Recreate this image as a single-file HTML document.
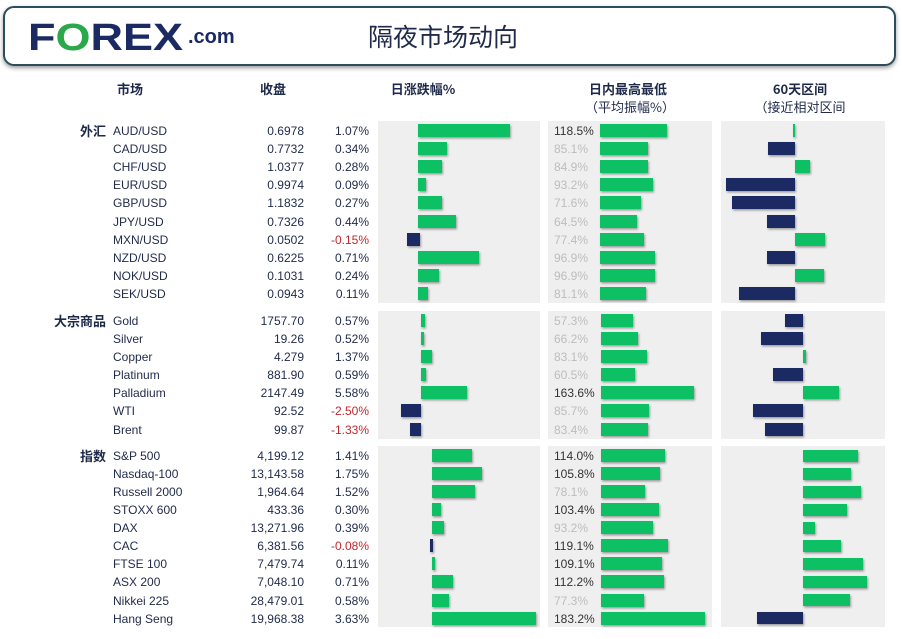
<!DOCTYPE html>
<html><head><meta charset="utf-8"><style>
html,body{margin:0;padding:0;background:#fff;}
svg{display:block;font-family:"Liberation Sans","Noto Sans CJK SC",sans-serif;}
.t{font-size:12px;fill:#1f2a4a;}
.r{text-anchor:end;}
.neg{fill:#c0282d;}
.g{fill:#11c064;}
.n{fill:#1b2a63;}
.h{font-size:13px;font-weight:bold;fill:#1f2a4a;text-anchor:middle;font-family:"Noto Sans CJK SC",sans-serif;}
.c{font-size:13px;font-weight:bold;fill:#1f2a4a;text-anchor:end;font-family:"Noto Sans CJK SC",sans-serif;}
.p{font-size:12px;fill:#bdbdbd;}
.pd{font-size:12px;fill:#333;}
</style></head><body>
<svg width="903" height="639" viewBox="0 0 903 639">
<defs>
<filter id="sh" x="-20%" y="-30%" width="140%" height="180%"><feDropShadow dx="1" dy="1.5" stdDeviation="1" flood-color="#000" flood-opacity="0.35"/></filter>
<filter id="bs" x="-5%" y="-20%" width="110%" height="150%"><feDropShadow dx="0" dy="2" stdDeviation="2" flood-color="#000" flood-opacity="0.4"/></filter>
</defs>
<rect x="4" y="7" width="891" height="58" rx="10" fill="#fff" stroke="#2f4d5c" stroke-width="2" filter="url(#bs)"/>
<text x="28" y="50" font-size="38" font-weight="bold" fill="#1b2a63" font-family="Liberation Sans,sans-serif" textLength="155" lengthAdjust="spacingAndGlyphs">F<tspan fill="#2aa84a">O</tspan>REX</text>
<text x="188" y="43" font-size="20" font-weight="bold" fill="#1b2a63">.com</text>
<text x="368" y="46" font-size="25" fill="#1f2a4a" font-family="Noto Sans CJK SC,sans-serif">隔夜市场动向</text>
<text class="h" x="130" y="94">市场</text>
<text class="h" x="273" y="94">收盘</text>
<text class="h" x="423" y="94">日涨跌幅%</text>
<text class="h" x="628" y="94">日内最高最低</text>
<text class="h" x="630" y="112" style="font-weight:normal">（平均振幅%）</text>
<text class="h" x="800" y="94">60天区间</text>
<text class="h" x="800" y="112" style="font-weight:normal">（接近相对区间</text>
<g fill="#efefef">
<rect x="378" y="121" width="162" height="182"/><rect x="548" y="121" width="164" height="182"/><rect x="721" y="121" width="164" height="182"/>
<rect x="378" y="311" width="162" height="128"/><rect x="548" y="311" width="164" height="128"/><rect x="721" y="311" width="164" height="128"/>
<rect x="378" y="446" width="162" height="181"/><rect x="548" y="446" width="164" height="181"/><rect x="721" y="446" width="164" height="181"/>
</g>
<text class="c" x="106" y="136">外汇</text>
<text class="c" x="106" y="326">大宗商品</text>
<text class="c" x="106" y="461">指数</text>
<g class="t">
<text x="113" y="135">AUD/USD</text><text class="r" x="304" y="135">0.6978</text><text class="r" x="369" y="135">1.07%</text>
<text x="113" y="153">CAD/USD</text><text class="r" x="304" y="153">0.7732</text><text class="r" x="369" y="153">0.34%</text>
<text x="113" y="171">CHF/USD</text><text class="r" x="304" y="171">1.0377</text><text class="r" x="369" y="171">0.28%</text>
<text x="113" y="189">EUR/USD</text><text class="r" x="304" y="189">0.9974</text><text class="r" x="369" y="189">0.09%</text>
<text x="113" y="207">GBP/USD</text><text class="r" x="304" y="207">1.1832</text><text class="r" x="369" y="207">0.27%</text>
<text x="113" y="226">JPY/USD</text><text class="r" x="304" y="226">0.7326</text><text class="r" x="369" y="226">0.44%</text>
<text x="113" y="244">MXN/USD</text><text class="r" x="304" y="244">0.0502</text><text class="r neg" x="369" y="244">-0.15%</text>
<text x="113" y="262">NZD/USD</text><text class="r" x="304" y="262">0.6225</text><text class="r" x="369" y="262">0.71%</text>
<text x="113" y="280">NOK/USD</text><text class="r" x="304" y="280">0.1031</text><text class="r" x="369" y="280">0.24%</text>
<text x="113" y="298">SEK/USD</text><text class="r" x="304" y="298">0.0943</text><text class="r" x="369" y="298">0.11%</text>

<text x="113" y="325">Gold</text><text class="r" x="304" y="325">1757.70</text><text class="r" x="369" y="325">0.57%</text>
<text x="113" y="343">Silver</text><text class="r" x="304" y="343">19.26</text><text class="r" x="369" y="343">0.52%</text>
<text x="113" y="361">Copper</text><text class="r" x="304" y="361">4.279</text><text class="r" x="369" y="361">1.37%</text>
<text x="113" y="379">Platinum</text><text class="r" x="304" y="379">881.90</text><text class="r" x="369" y="379">0.59%</text>
<text x="113" y="397">Palladium</text><text class="r" x="304" y="397">2147.49</text><text class="r" x="369" y="397">5.58%</text>
<text x="113" y="415">WTI</text><text class="r" x="304" y="415">92.52</text><text class="r neg" x="369" y="415">-2.50%</text>
<text x="113" y="434">Brent</text><text class="r" x="304" y="434">99.87</text><text class="r neg" x="369" y="434">-1.33%</text>

<text x="113" y="460">S&amp;P 500</text><text class="r" x="304" y="460">4,199.12</text><text class="r" x="369" y="460">1.41%</text>
<text x="113" y="478">Nasdaq-100</text><text class="r" x="304" y="478">13,143.58</text><text class="r" x="369" y="478">1.75%</text>
<text x="113" y="496">Russell 2000</text><text class="r" x="304" y="496">1,964.64</text><text class="r" x="369" y="496">1.52%</text>
<text x="113" y="514">STOXX 600</text><text class="r" x="304" y="514">433.36</text><text class="r" x="369" y="514">0.30%</text>
<text x="113" y="532">DAX</text><text class="r" x="304" y="532">13,271.96</text><text class="r" x="369" y="532">0.39%</text>
<text x="113" y="550">CAC</text><text class="r" x="304" y="550">6,381.56</text><text class="r neg" x="369" y="550">-0.08%</text>
<text x="113" y="568">FTSE 100</text><text class="r" x="304" y="568">7,479.74</text><text class="r" x="369" y="568">0.11%</text>
<text x="113" y="586">ASX 200</text><text class="r" x="304" y="586">7,048.10</text><text class="r" x="369" y="586">0.71%</text>
<text x="113" y="605">Nikkei 225</text><text class="r" x="304" y="605">28,479.01</text><text class="r" x="369" y="605">0.58%</text>
<text x="113" y="623">Hang Seng</text><text class="r" x="304" y="623">19,968.38</text><text class="r" x="369" y="623">3.63%</text>
</g>
<g>
<text class="pd" x="554" y="135">118.5%</text><text class="p" x="554" y="153">85.1%</text><text class="p" x="554" y="171">84.9%</text><text class="p" x="554" y="189">93.2%</text><text class="p" x="554" y="207">71.6%</text><text class="p" x="554" y="226">64.5%</text><text class="p" x="554" y="244">77.4%</text><text class="p" x="554" y="262">96.9%</text><text class="p" x="554" y="280">96.9%</text><text class="p" x="554" y="298">81.1%</text>
<text class="p" x="554" y="325">57.3%</text><text class="p" x="554" y="343">66.2%</text><text class="p" x="554" y="361">83.1%</text><text class="p" x="554" y="379">60.5%</text><text class="pd" x="554" y="397">163.6%</text><text class="p" x="554" y="415">85.7%</text><text class="p" x="554" y="434">83.4%</text>
<text class="pd" x="554" y="460">114.0%</text><text class="pd" x="554" y="478">105.8%</text><text class="p" x="554" y="496">78.1%</text><text class="pd" x="554" y="514">103.4%</text><text class="p" x="554" y="532">93.2%</text><text class="pd" x="554" y="550">119.1%</text><text class="pd" x="554" y="568">109.1%</text><text class="pd" x="554" y="586">112.2%</text><text class="p" x="554" y="605">77.3%</text><text class="pd" x="554" y="623">183.2%</text>
</g>
<g filter="url(#sh)">
<rect class="g" x="418" y="124" width="92" height="13"/>
<rect class="g" x="418" y="142" width="29" height="13"/>
<rect class="g" x="418" y="160" width="24" height="13"/>
<rect class="g" x="418" y="178" width="8" height="13"/>
<rect class="g" x="418" y="196" width="24" height="13"/>
<rect class="g" x="418" y="215" width="38" height="13"/>
<rect class="n" x="407" y="233" width="13" height="13"/>
<rect class="g" x="418" y="251" width="61" height="13"/>
<rect class="g" x="418" y="269" width="21" height="13"/>
<rect class="g" x="418" y="287" width="10" height="13"/>
<rect class="g" x="421" y="314" width="4" height="13"/>
<rect class="g" x="421" y="332" width="3" height="13"/>
<rect class="g" x="421" y="350" width="11" height="13"/>
<rect class="g" x="421" y="368" width="5" height="13"/>
<rect class="g" x="421" y="386" width="46" height="13"/>
<rect class="n" x="401" y="404" width="20" height="13"/>
<rect class="n" x="410" y="423" width="11" height="13"/>
<rect class="g" x="432" y="449" width="40" height="13"/>
<rect class="g" x="432" y="467" width="50" height="13"/>
<rect class="g" x="432" y="485" width="43" height="13"/>
<rect class="g" x="432" y="503" width="9" height="13"/>
<rect class="g" x="432" y="521" width="12" height="13"/>
<rect class="n" x="430" y="539" width="3" height="13"/>
<rect class="g" x="432" y="557" width="3" height="13"/>
<rect class="g" x="432" y="575" width="21" height="13"/>
<rect class="g" x="432" y="594" width="17" height="13"/>
<rect class="g" x="432" y="612" width="104" height="13"/>
<rect class="g" x="600" y="124" width="67" height="13"/>
<rect class="g" x="600" y="142" width="48" height="13"/>
<rect class="g" x="600" y="160" width="48" height="13"/>
<rect class="g" x="600" y="178" width="53" height="13"/>
<rect class="g" x="600" y="196" width="41" height="13"/>
<rect class="g" x="600" y="215" width="37" height="13"/>
<rect class="g" x="600" y="233" width="44" height="13"/>
<rect class="g" x="600" y="251" width="55" height="13"/>
<rect class="g" x="600" y="269" width="55" height="13"/>
<rect class="g" x="600" y="287" width="46" height="13"/>
<rect class="g" x="601" y="314" width="32" height="13"/>
<rect class="g" x="601" y="332" width="37" height="13"/>
<rect class="g" x="601" y="350" width="46" height="13"/>
<rect class="g" x="601" y="368" width="34" height="13"/>
<rect class="g" x="601" y="386" width="93" height="13"/>
<rect class="g" x="601" y="404" width="48" height="13"/>
<rect class="g" x="601" y="423" width="47" height="13"/>
<rect class="g" x="601" y="449" width="64" height="13"/>
<rect class="g" x="601" y="467" width="59" height="13"/>
<rect class="g" x="601" y="485" width="44" height="13"/>
<rect class="g" x="601" y="503" width="58" height="13"/>
<rect class="g" x="601" y="521" width="52" height="13"/>
<rect class="g" x="601" y="539" width="67" height="13"/>
<rect class="g" x="601" y="557" width="61" height="13"/>
<rect class="g" x="601" y="575" width="63" height="13"/>
<rect class="g" x="601" y="594" width="43" height="13"/>
<rect class="g" x="601" y="612" width="104" height="13"/>
<rect class="g" x="793" y="124" width="2" height="13"/>
<rect class="n" x="768" y="142" width="27" height="13"/>
<rect class="g" x="795" y="160" width="15" height="13"/>
<rect class="n" x="726" y="178" width="69" height="13"/>
<rect class="n" x="732" y="196" width="63" height="13"/>
<rect class="n" x="767" y="215" width="28" height="13"/>
<rect class="g" x="795" y="233" width="30" height="13"/>
<rect class="n" x="767" y="251" width="28" height="13"/>
<rect class="g" x="795" y="269" width="29" height="13"/>
<rect class="n" x="739" y="287" width="56" height="13"/>
<rect class="n" x="785" y="314" width="18" height="13"/>
<rect class="n" x="761" y="332" width="42" height="13"/>
<rect class="g" x="803" y="350" width="3" height="13"/>
<rect class="n" x="773" y="368" width="30" height="13"/>
<rect class="g" x="803" y="386" width="36" height="13"/>
<rect class="n" x="753" y="404" width="50" height="13"/>
<rect class="n" x="765" y="423" width="38" height="13"/>
<rect class="g" x="803" y="450" width="55" height="12"/>
<rect class="g" x="803" y="468" width="48" height="12"/>
<rect class="g" x="803" y="486" width="58" height="12"/>
<rect class="g" x="803" y="504" width="44" height="12"/>
<rect class="g" x="803" y="522" width="12" height="12"/>
<rect class="g" x="803" y="540" width="38" height="12"/>
<rect class="g" x="803" y="558" width="60" height="12"/>
<rect class="g" x="803" y="576" width="64" height="12"/>
<rect class="g" x="803" y="594" width="47" height="12"/>
<rect class="n" x="757" y="612" width="46" height="12"/>
</g>
</svg>
</body></html>
